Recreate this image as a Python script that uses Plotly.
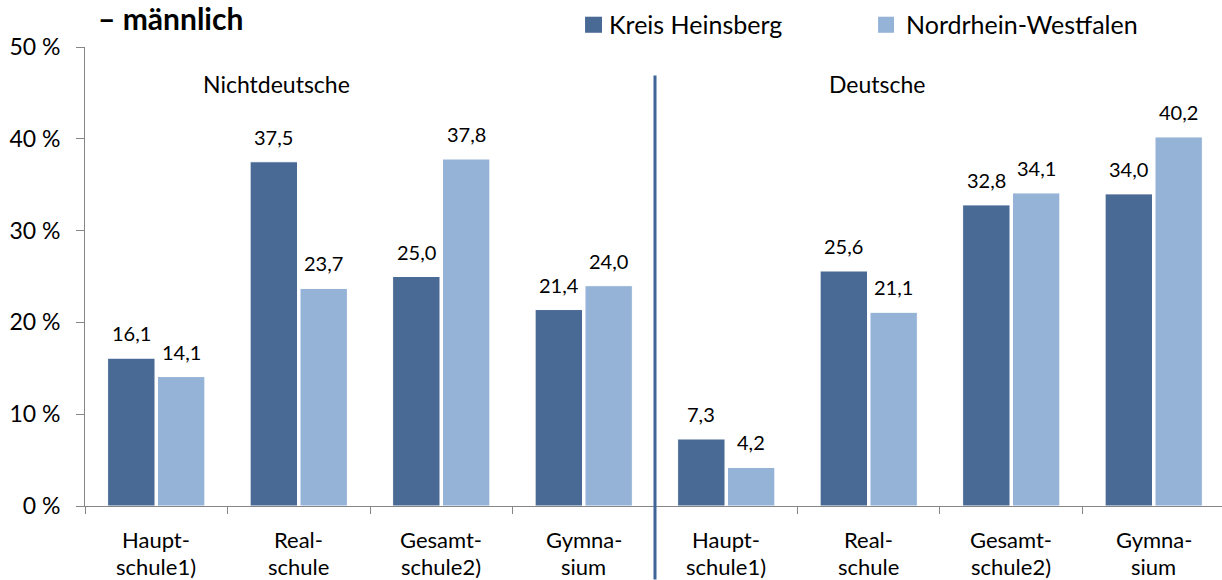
import plotly.graph_objects as go

# ---- data ----
line1 = ["Haupt-", "Real-", "Gesamt-", "Gymna-", "Haupt-", "Real-", "Gesamt-", "Gymna-"]
line2 = ["schule1)", "schule", "schule2)", "sium", "schule1)", "schule", "schule2)", "sium"]
kreis = [16.1, 37.5, 25.0, 21.4, 7.3, 25.6, 32.8, 34.0]
nrw = [14.1, 23.7, 37.8, 24.0, 4.2, 21.1, 34.1, 40.2]
series_names = ["Kreis Heinsberg", "Nordrhein-Westfalen"]
group_labels = ["Nichtdeutsche", "Deutsche"]
y_ticks = [0, 10, 20, 30, 40, 50]
title_text = "– männlich"

DARK = "#4a6a96"
LIGHT = "#95b3d7"
FONT = "Lato"
x = list(range(len(kreis)))

fig = go.Figure()
fig.add_trace(go.Bar(x=x, y=kreis, name=series_names[0], showlegend=False,
                     marker=dict(color=DARK, line=dict(color="white", width=1))))
fig.add_trace(go.Bar(x=x, y=nrw, name=series_names[1], showlegend=False,
                     marker=dict(color=LIGHT, line=dict(color="white", width=1))))

def fmt(v):
    return f"{v:.1f}".replace(".", ",")

def A(**kw):
    d = dict(showarrow=False, xanchor="center", yanchor="middle")
    d.update(kw)
    return d

ann = []
for i in x:
    ann.append(A(x=i, y=kreis[i], xref="x", yref="y", text=fmt(kreis[i]),
                 xshift=-25, yshift=25, font=dict(size=20, color="black", family=FONT)))
    ann.append(A(x=i, y=nrw[i], xref="x", yref="y", text=fmt(nrw[i]),
                 xshift=25, yshift=25, font=dict(size=20, color="black", family=FONT)))
    ann.append(A(x=i, y=0, xref="x", yref="paper", text=line1[i],
                 yshift=-33, font=dict(size=22, color="black", family=FONT)))
    ann.append(A(x=i, y=0, xref="x", yref="paper", text=line2[i],
                 yshift=-60, font=dict(size=22, color="black", family=FONT)))

ann.append(A(x=0.168, y=0.92, xref="paper", yref="paper", text=group_labels[0],
             font=dict(size=23, color="black", family=FONT)))
ann.append(A(x=0.697, y=0.92, xref="paper", yref="paper", text=group_labels[1],
             font=dict(size=23, color="black", family=FONT)))
ann.append(A(x=0.0097, y=1.1029, xref="paper", yref="paper", text="<b>" + title_text + "</b>",
             xanchor="left", yanchor="top", yshift=2, font=dict(size=30, color="black", family=FONT)))

# legend (drawn manually to match square size and spacing)
leg_sq = [(0.4398, 0.4547), (0.6975, 0.7115)]
leg_tx = [0.4592, 0.7203]
for k, col in enumerate([DARK, LIGHT]):
    fig.add_shape(type="rect", xref="paper", yref="paper", x0=leg_sq[k][0], x1=leg_sq[k][1],
                  y0=1.031, y1=1.066, fillcolor=col, line=dict(width=0))
    ann.append(A(x=leg_tx[k], y=1.0506, xref="paper", yref="paper", text=series_names[k],
                 xanchor="left", font=dict(size=25, color="black", family=FONT)))

fig.add_shape(type="line", xref="x", yref="paper", x0=3.5, x1=3.5, y0=0.938, y1=-0.16,
              line=dict(color="#3f6497", width=3))

fig.update_layout(
    width=1222, height=580,
    margin=dict(l=85, r=0, t=47, b=74, autoexpand=False),
    paper_bgcolor="white", plot_bgcolor="white",
    barmode="group", bargap=0.3, bargroupgap=0.05,
    font=dict(family=FONT, size=22, color="black"),
    annotations=ann,
    showlegend=False,
)
fig.update_xaxes(range=[-0.5, 7.479], tickmode="array", tickvals=[i - 0.5 for i in range(9)],
                 ticktext=[""] * 9, ticks="outside", ticklen=7, tickcolor="#868686",
                 showline=True, linecolor="#868686", linewidth=1, showgrid=False, zeroline=False)
fig.update_yaxes(range=[0, 50], tickmode="array", tickvals=y_ticks,
                 ticktext=[f"{t} %" for t in y_ticks], ticks="outside", ticklen=8,
                 tickcolor="#868686", showline=True, linecolor="#868686", linewidth=1,
                 showgrid=False, zeroline=False, tickfont=dict(size=23, family=FONT),
                 ticklabelstandoff=11, automargin=False)

fig.write_html("out.html", config={"displayModeBar": False},
               post_script="document.body.style.margin='0';")
